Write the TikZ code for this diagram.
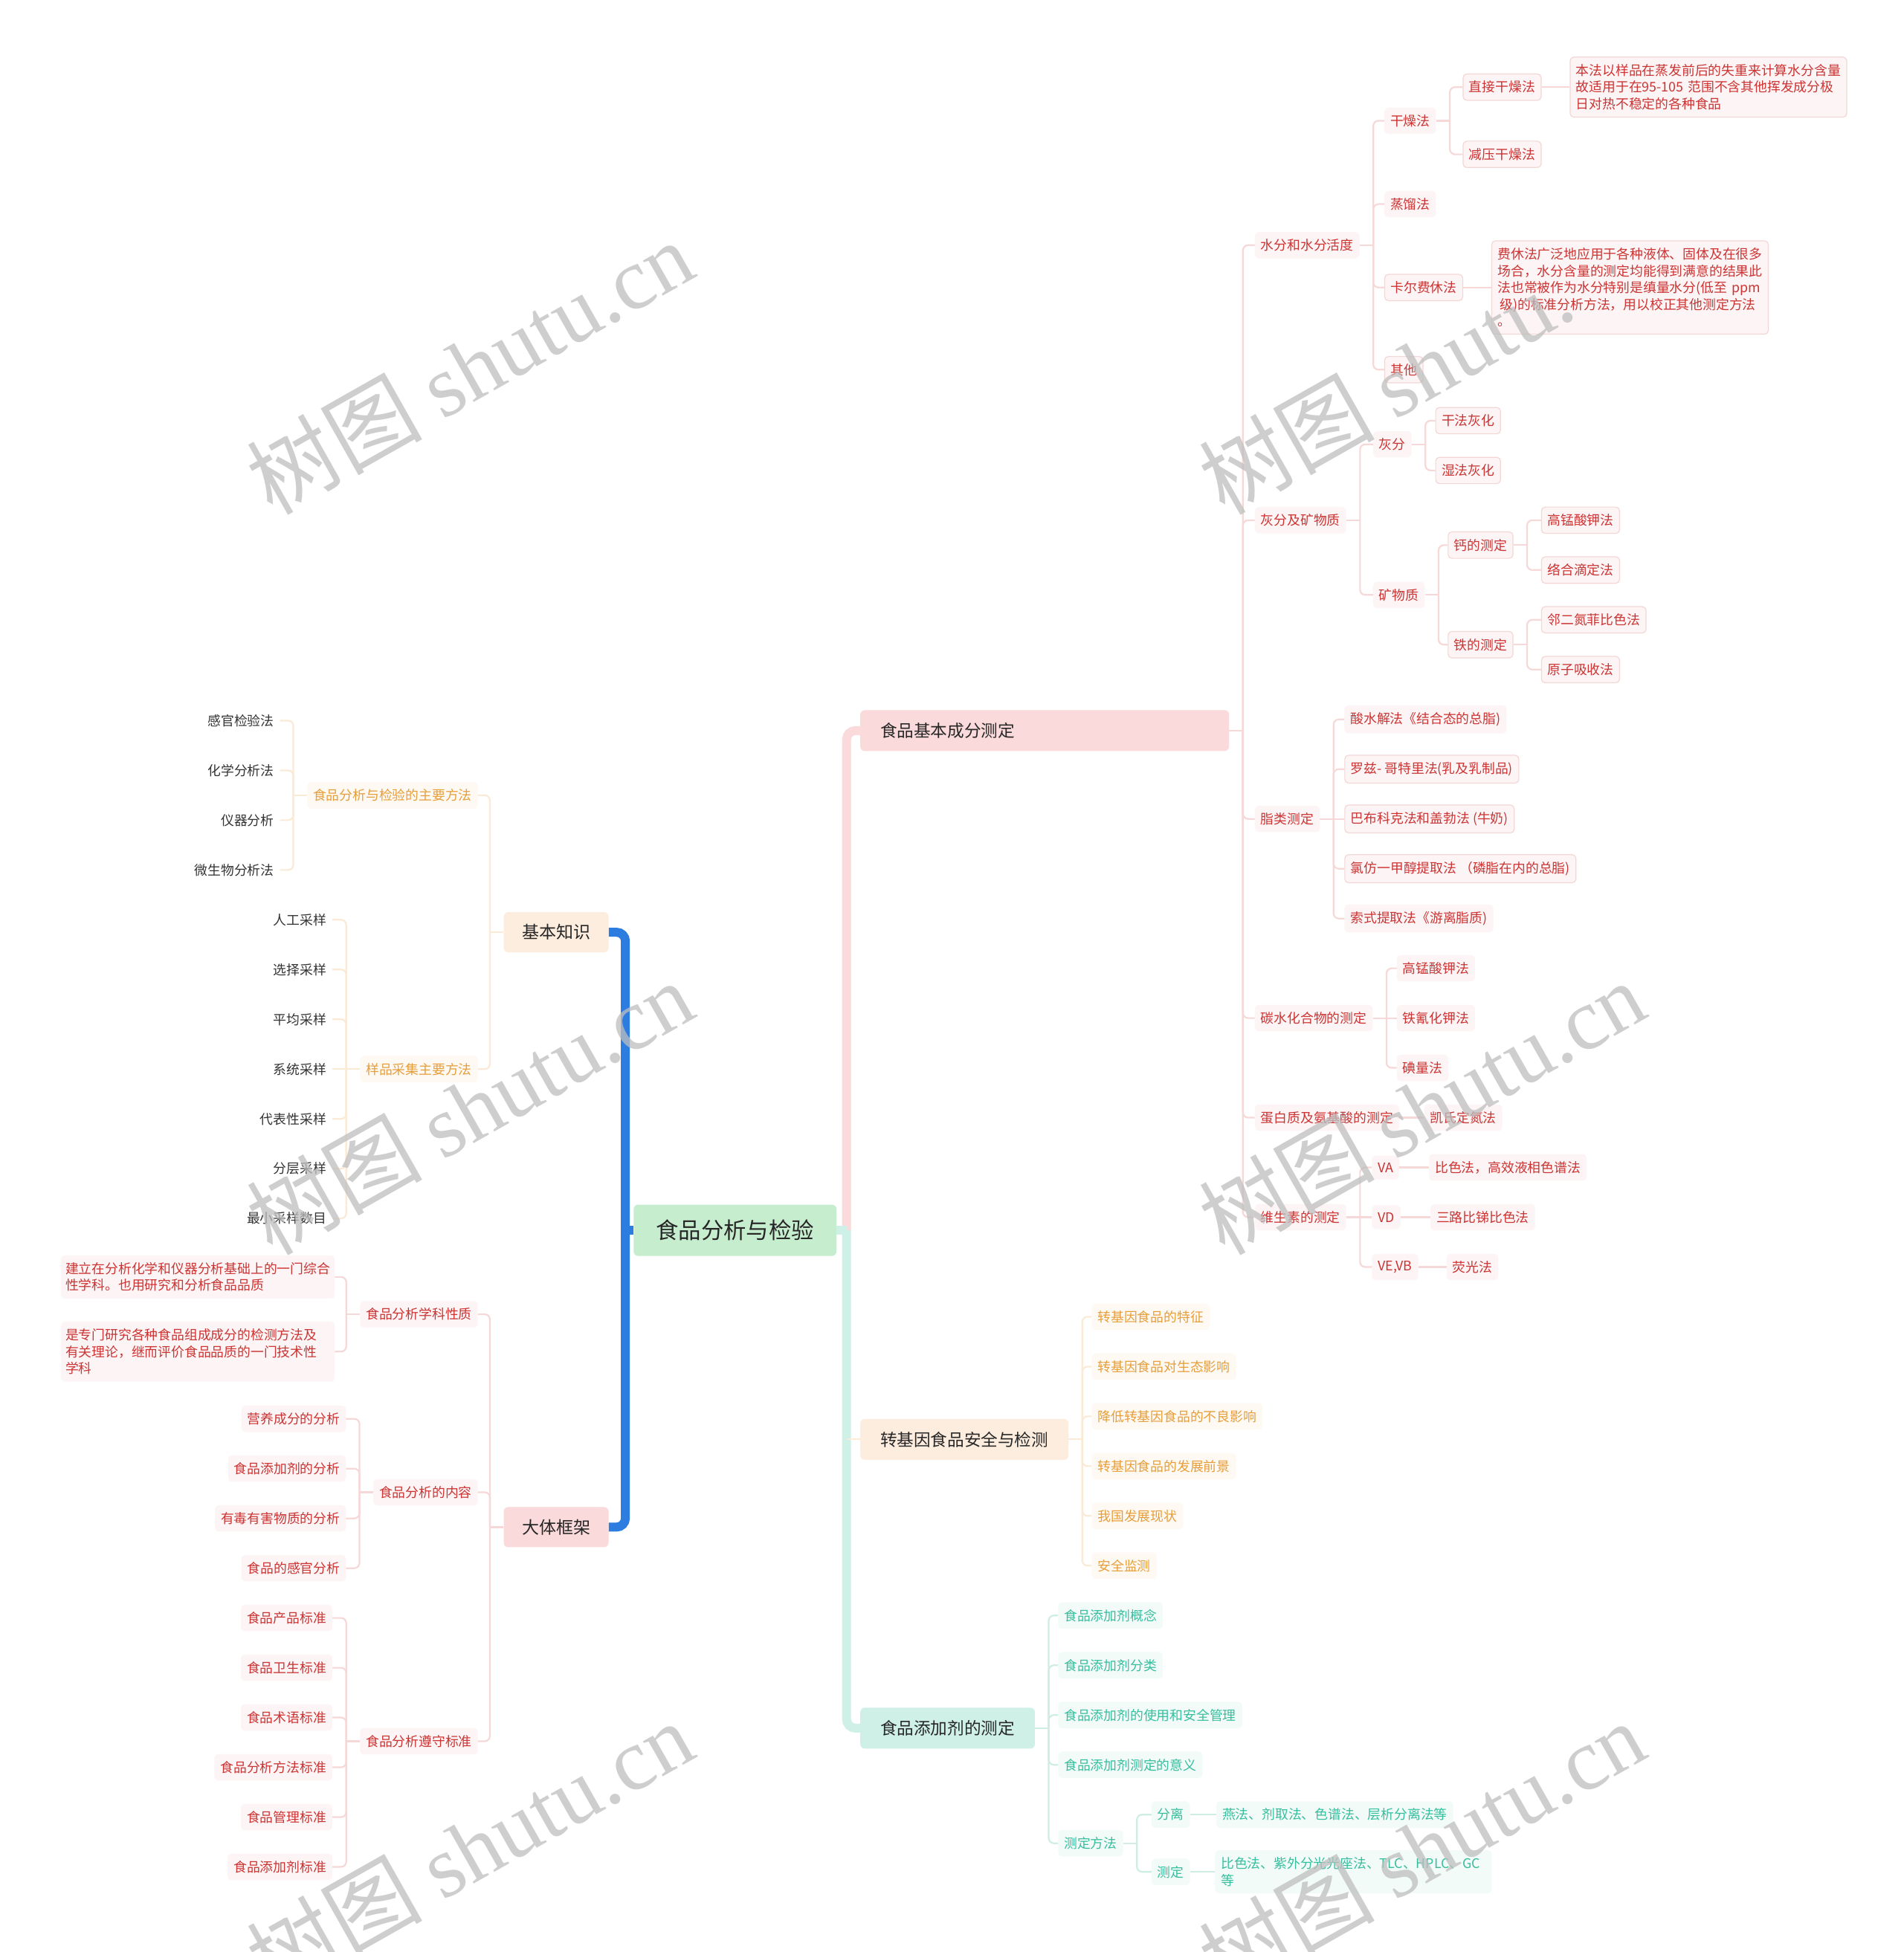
\documentclass[tikz,border=0pt]{standalone}
\usepackage{fontspec}
\setmainfont{Noto Sans CJK SC}
\newfontfamily\wmserif{Liberation Serif}
\usetikzlibrary{calc}
\definecolor{txtred}{RGB}{204,51,51}
\definecolor{txtorg}{RGB}{231,158,58}
\definecolor{txtteal}{RGB}{54,190,158}
\definecolor{txtdark}{RGB}{51,51,51}
\definecolor{lnpink}{RGB}{246,216,216}
\definecolor{lnorg}{RGB}{251,234,214}
\definecolor{lnteal}{RGB}{206,238,229}
\definecolor{fpink}{RGB}{253,245,245}
\definecolor{forg}{RGB}{254,249,242}
\definecolor{fteal}{RGB}{243,251,248}
\definecolor{bpink}{RGB}{243,214,214}
\definecolor{mainpink}{RGB}{250,218,218}
\definecolor{mainorg}{RGB}{253,237,222}
\definecolor{mainteal}{RGB}{207,240,231}
\definecolor{rootgreen}{RGB}{199,237,207}
\definecolor{blueln}{RGB}{45,125,225}
\definecolor{wm}{RGB}{190,190,190}
\tikzset{
  sm/.style={font=\fontsize{17.8pt}{22.6pt}\selectfont, inner xsep=8pt, inner ysep=9.5pt, rounded corners=5pt},
  ra/.style={anchor=west}, la/.style={anchor=east},
  pk/.style={sm, text=txtred, fill=fpink},
  pkb/.style={pk, draw=bpink, line width=1.2pt},
  og/.style={sm, text=txtorg, fill=forg},
  tl/.style={sm, text=txtteal, fill=fteal},
  dk/.style={sm, text=txtdark},
  notebox/.style={text width=356pt, align=left},
  cpk/.style={draw=lnpink, line width=2.2pt},
  cog/.style={draw=lnorg, line width=2.2pt},
  ctl/.style={draw=lnteal, line width=2.2pt},
  mainbox/.style={font=\fontsize{22.6pt}{27pt}\selectfont, text=black!85, rounded corners=6pt, inner xsep=27pt, inner ysep=4pt, minimum height=55pt, anchor=west},
  lmain/.style={font=\fontsize{23pt}{27pt}\selectfont, text=black!85, rounded corners=6pt, inner xsep=24.5pt, inner ysep=4pt, minimum height=54pt, anchor=east},
  rootbox/.style={font=\fontsize{30.4pt}{34pt}\selectfont, text=black!85, fill=rootgreen, rounded corners=6pt, inner xsep=30pt, inner ysep=4pt, minimum height=69pt},
  thick main/.style={line width=12pt},
  wmk/.style={anchor=base west, rotate=29.5, text=wm, opacity=.75, inner sep=0pt, font=\fontsize{118pt}{120pt}\selectfont},
}
% elbow connectors (parent right of / left of child) and straight ones
\newcommand\linkR[3]{\draw[#1] (#2.east) -- ++(11,0); \draw[#1,rounded corners=7pt] ($(#2.east)+(11,0)$) |- (#3.west);}
\newcommand\linkL[3]{\draw[#1] (#2.west) -- ++(-11,0); \draw[#1,rounded corners=7pt] ($(#2.west)+(-11,0)$) |- (#3.east);}
\newcommand\linkSR[3]{\draw[#1] (#2.east) -- (#3.west);}
\newcommand\linkSL[3]{\draw[#1] (#2.west) -- (#3.east);}
\begin{document}
\begin{tikzpicture}[x=1.6743pt,y=-1.6743pt]
\useasboundingbox (0,0) rectangle (1529,1568.4);
\fill[white] (0,0) rectangle (1529,1568.4);
\clip (0,0) rectangle (1529,1568.4);

% ---------- root and main branches
\node[rootbox] (root) at (590.5,988.5) {食品分析与检验};
\node[lmain, fill=mainorg] (kb) at (489,749) {基本知识};
\node[lmain, fill=mainpink] (fw) at (489,1227) {大体框架};
\node[mainbox, fill=mainpink, text width=442pt, align=left] (b1) at (691,587) {食品基本成分测定};
\node[mainbox, fill=mainorg] (b2) at (691,1156.5) {转基因食品安全与检测};
\node[mainbox, fill=mainteal] (b3) at (691,1388.5) {食品添加剂的测定};

\coordinate (rs) at ($(root.east)+(8,0)$);
\coordinate (ls) at ($(root.west)+(-6.5,0)$);
\draw[thick main, mainpink, rounded corners=12pt] (rs) |- (b1.west);
\draw[thick main, mainteal, rounded corners=12pt] (rs) |- (b3.west);
\draw[thick main, mainteal] (root.east) -- (rs);
\draw[line width=2.2pt, lnorg] (rs |- b2.west) -- (b2.west);
\draw[thick main, blueln, rounded corners=12pt] (kb.east) -| (ls) |- (fw.east);
\draw[thick main, blueln] (root.west) -- (ls);

% ---------- 食品基本成分测定
\foreach \nm/\yy/\tx in {w/197/水分和水分活度,a/418/灰分及矿物质,f/658/脂类测定,c/818/碳水化合物的测定,p/898/蛋白质及氨基酸的测定,v/978/维生素的测定}{
  \node[pk,ra] (\nm) at (1008,\yy) {\tx};
  \linkR{cpk}{b1}{\nm}
}
\foreach \nm/\yy/\st/\tx in {w1/97/pk/干燥法,w2/164/pk/蒸馏法,w3/231/pkb/卡尔费休法,w4/297/pkb/其他}{
  \node[\st,ra] (\nm) at (1112,\yy) {\tx};
  \linkR{cpk}{w}{\nm}
}
\foreach \nm/\yy/\tx in {w11/70/直接干燥法,w12/124/减压干燥法}{
  \node[pkb,ra] (\nm) at (1175,\yy) {\tx};
  \linkR{cpk}{w1}{\nm}
}
\node[pkb,ra,notebox] (n1) at (1261,70) {本法以样品在蒸发前后的失重来计算水分含量\\故适用于在95-105 范围不含其他挥发成分极\\日对热不稳定的各种食品};
\linkSR{cpk}{w11}{n1}
\node[pkb,ra,notebox] (n2) at (1198,231) {费休法广泛地应用于各种液体、固体及在很多\\场合，水分含量的测定均能得到满意的结果此\\法也常被作为水分特别是缜量水分(低至 ppm\\\hspace*{3pt}级)的标准分析方法，用以校正其他测定方法\\。};
\linkSR{cpk}{w3}{n2}

\foreach \nm/\yy/\tx in {a1/357/灰分,a2/478/矿物质}{
  \node[pk,ra] (\nm) at (1103,\yy) {\tx};
  \linkR{cpk}{a}{\nm}
}
\foreach \nm/\yy/\tx in {a11/338/干法灰化,a12/378/湿法灰化}{
  \node[pkb,ra] (\nm) at (1153,\yy) {\tx};
  \linkR{cpk}{a1}{\nm}
}
\foreach \nm/\yy/\tx in {a21/438/钙的测定,a22/518/铁的测定}{
  \node[pkb,ra] (\nm) at (1163,\yy) {\tx};
  \linkR{cpk}{a2}{\nm}
}
\foreach \nm/\yy/\tx in {a211/418/高锰酸钾法,a212/458/络合滴定法}{
  \node[pkb,ra] (\nm) at (1238,\yy) {\tx};
  \linkR{cpk}{a21}{\nm}
}
\foreach \nm/\yy/\tx in {a221/498/邻二氮菲比色法,a222/538/原子吸收法}{
  \node[pkb,ra] (\nm) at (1238,\yy) {\tx};
  \linkR{cpk}{a22}{\nm}
}

\foreach \nm/\yy/\st/\tx in {f1/578/pk/酸水解法《结合态的总脂),f2/618/pkb/罗兹- 哥特里法(乳及乳制品),f4/698/pkb/氯仿一甲醇提取法 （磷脂在内的总脂),f5/738/pk/索式提取法《游离脂质)}{
  \node[\st,ra] (\nm) at (1080,\yy) {\tx};
  \linkR{cpk}{f}{\nm}
}
\node[pkb,ra] (f3) at (1080,658) {巴布科克法和盖勃法 (牛奶)};
\linkSR{cpk}{f}{f3}
\foreach \nm/\yy/\tx in {c1/778/高锰酸钾法,c3/858/碘量法}{
  \node[pk,ra] (\nm) at (1122,\yy) {\tx};
  \linkR{cpk}{c}{\nm}
}
\node[pk,ra] (c2) at (1122,818) {铁氰化钾法};
\linkSR{cpk}{c}{c2}
\node[pk,ra] (p1) at (1144,898) {凯氏定氮法};
\linkSR{cpk}{p}{p1}
\foreach \nm/\yy/\tx in {v1/938/VA,v3/1018/{VE,VB}}{
  \node[pk,ra] (\nm) at (1102,\yy) {\tx};
  \linkR{cpk}{v}{\nm}
}
\node[pk,ra] (v2) at (1102,978) {VD};
\linkSR{cpk}{v}{v2}
\node[pk,ra] (v11) at (1148,938) {比色法，高效液相色谱法};
\linkSR{cpk}{v1}{v11}
\node[pk,ra] (v21) at (1149,978) {三路比锑比色法};
\linkSR{cpk}{v2}{v21}
\node[pk,ra] (v31) at (1162,1018) {荧光法};
\linkSR{cpk}{v3}{v31}

% ---------- 转基因食品安全与检测
\foreach \nm/\yy/\tx in {t1/1058/转基因食品的特征,t2/1098/转基因食品对生态影响,t3/1138/降低转基因食品的不良影响,t4/1178/转基因食品的发展前景,t5/1218/我国发展现状,t6/1258/安全监测}{
  \node[og,ra] (\nm) at (877,\yy) {\tx};
  \linkR{cog}{b2}{\nm}
}

% ---------- 食品添加剂的测定
\foreach \nm/\yy/\tx in {d1/1298/食品添加剂概念,d2/1338/食品添加剂分类,d3/1378/食品添加剂的使用和安全管理,d4/1418/食品添加剂测定的意义,d5/1481/测定方法}{
  \node[tl,ra] (\nm) at (850,\yy) {\tx};
  \linkR{ctl}{b3}{\nm}
}
\node[tl,ra] (d51) at (925,1458) {分离};
\linkR{ctl}{d5}{d51}
\node[tl,ra] (d52) at (925,1504) {测定};
\linkR{ctl}{d5}{d52}
\node[tl,ra] (d511) at (977,1458) {燕法、剂取法、色谱法、层析分离法等};
\linkSR{ctl}{d51}{d511}
\node[tl,ra,notebox] (d521) at (976,1504) {比色法、紫外分光光座法、TLC、HPLC、GC\\等};
\linkSR{ctl}{d52}{d521}

% ---------- 基本知识
\node[og,la] (k1) at (384,639) {食品分析与检验的主要方法};
\linkL{cog}{kb}{k1}
\node[og,la] (k2) at (384,859) {样品采集主要方法};
\linkL{cog}{kb}{k2}
\foreach \nm/\yy/\tx in {k11/579/感官检验法,k12/619/化学分析法,k13/659/仪器分析,k14/699/微生物分析法}{
  \node[dk,la] (\nm) at (225,\yy) {\tx};
  \linkL{cog}{k1}{\nm}
}
\foreach \nm/\yy/\tx in {k21/739/人工采样,k22/779/选择采样,k23/819/平均采样,k25/899/代表性采样,k26/939/分层采样,k27/979/最小采样数目}{
  \node[dk,la] (\nm) at (267,\yy) {\tx};
  \linkL{cog}{k2}{\nm}
}
\node[dk,la] (k24) at (267,859) {系统采样};
\linkSL{cog}{k2}{k24}

% ---------- 大体框架
\foreach \nm/\yy/\tx in {g1/1056/食品分析学科性质,g2/1199/食品分析的内容,g3/1399/食品分析遵守标准}{
  \node[pk,la] (\nm) at (384,\yy) {\tx};
  \linkL{cpk}{fw}{\nm}
}
\node[pk,la,notebox,inner xsep=6pt] (g11) at (269,1026) {建立在分析化学和仪器分析基础上的一门综合\\性学科。也用研究和分析食品品质};
\linkL{cpk}{g1}{g11}
\node[pk,la,notebox,inner xsep=6pt] (g12) at (269,1086) {是专门研究各种食品组成成分的检测方法及\\有关理论，继而评价食品品质的一门技术性\\学科};
\linkL{cpk}{g1}{g12}
\foreach \nm/\yy/\tx in {g21/1140/营养成分的分析,g22/1180/食品添加剂的分析,g23/1220/有毒有害物质的分析,g24/1260/食品的感官分析}{
  \node[pk,la] (\nm) at (278,\yy) {\tx};
  \linkL{cpk}{g2}{\nm}
}
\foreach \nm/\yy/\tx in {g31/1300/食品产品标准,g32/1340/食品卫生标准,g33/1380/食品术语标准,g34/1420/食品分析方法标准,g35/1460/食品管理标准,g36/1500/食品添加剂标准}{
  \node[pk,la] (\nm) at (267,\yy) {\tx};
  \linkL{cpk}{g3}{\nm}
}

% ---------- watermarks
\foreach \wx/\wy in {219/415,219/1010,984/1010,219/1605,984/1605}{
  \node[wmk] at (\wx,\wy) {树图 {\wmserif shutu.cn}};
}
\node[wmk] at (984,415) {树图 {\wmserif shutu.}};
\end{tikzpicture}
\end{document}
